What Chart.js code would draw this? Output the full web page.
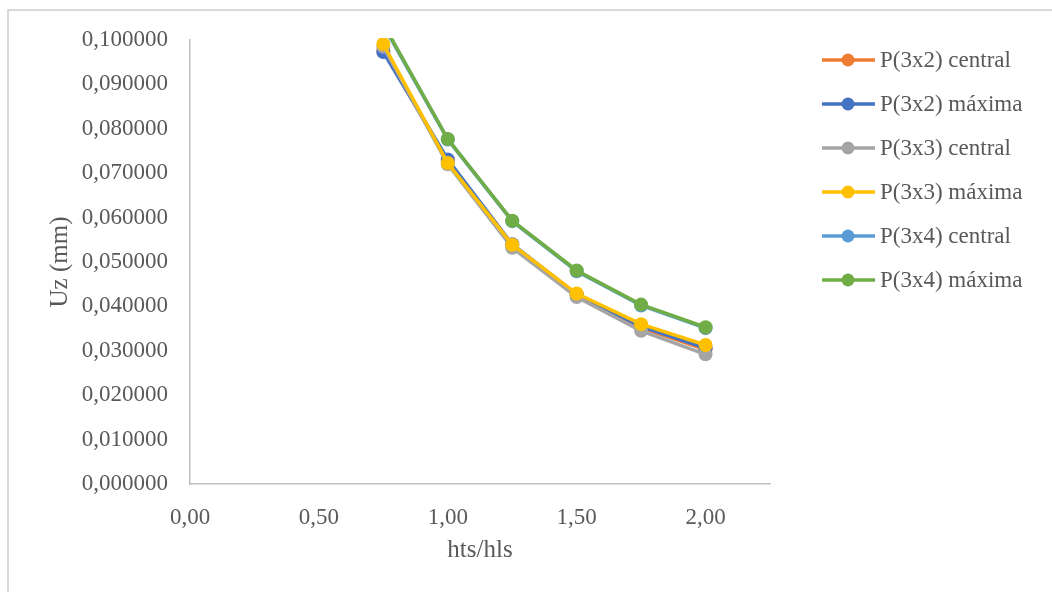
<!DOCTYPE html>
<html>
<head>
<meta charset="utf-8">
<script src="https://cdn.jsdelivr.net/npm/chart.js@4.4.0/dist/chart.umd.min.js"></script>
<style>
  html, body { margin: 0; padding: 0; background: #ffffff; }
  #wrap { width: 1052px; height: 592px; position: relative; }
</style>
</head>
<body>
<div id="wrap"><canvas id="c" width="1052" height="592"></canvas></div>
<script>
// ---- data ----
const xValues = [0.75, 1.00, 1.25, 1.50, 1.75, 2.00];
const seriesNames = [
  'P(3x2) central', 'P(3x2) máxima', 'P(3x3) central',
  'P(3x3) máxima', 'P(3x4) central', 'P(3x4) máxima'
];
const p3x2Central = [0.0975, 0.0728, 0.0538, 0.0425, 0.0352, 0.0303];
const p3x2Maxima  = [0.0973, 0.0731, 0.0540, 0.0427, 0.0355, 0.0306];
const p3x3Central = [0.0985, 0.0720, 0.0532, 0.0421, 0.0345, 0.0292];
const p3x3Maxima  = [0.0991, 0.0723, 0.0539, 0.0429, 0.0360, 0.0313];
const p3x4Central = [0.1033, 0.0776, 0.0592, 0.0479, 0.0402, 0.0351];
const p3x4Maxima  = [0.1036, 0.0777, 0.0593, 0.0481, 0.0404, 0.0353];
const seriesColors = ['#ED7D31', '#4472C4', '#A5A5A5', '#FFC000', '#5B9BD5', '#70AD47'];
const xTickValues = [0, 0.5, 1.0, 1.5, 2.0];
const xTitle = 'hts/hls';
const yTitle = 'Uz (mm)';

const allSeries = [p3x2Central, p3x2Maxima, p3x3Central, p3x3Maxima, p3x4Central, p3x4Maxima];
const FONT = "'Liberation Serif', 'Times New Roman', serif";
const TEXT = '#595959';

const datasets = allSeries.map((vals, i) => ({
  label: seriesNames[i],
  data: vals.map((v, k) => ({ x: xValues[k], y: v })),
  borderColor: seriesColors[i],
  backgroundColor: seriesColors[i],
  pointBackgroundColor: seriesColors[i],
  pointBorderColor: seriesColors[i],
  borderWidth: 3.5,
  pointRadius: 7,
  pointBorderWidth: 0,
  pointHoverRadius: 7,
  tension: 0,
  fill: false,
  order: allSeries.length - 1 - i,
  clip: { left: 10, right: 10, top: 2, bottom: 10 }
}));

const frame = {
  id: 'frame',
  beforeDraw(chart) {
    const ctx = chart.ctx;
    ctx.save();
    ctx.fillStyle = '#ffffff';
    ctx.fillRect(0, 0, chart.width, chart.height);
    ctx.strokeStyle = '#d9d9d9';
    ctx.lineWidth = 2;
    ctx.beginPath();
    ctx.moveTo(8, 600);
    ctx.lineTo(8, 10);
    ctx.lineTo(1060, 10);
    ctx.stroke();
    ctx.restore();
  }
};

const legendPlugin = {
  id: 'sideLegend',
  afterDraw(chart) {
    const ctx = chart.ctx;
    ctx.save();
    chart.data.datasets.forEach((ds, i) => {
      const y = 60 + i * 44;
      ctx.strokeStyle = ds.borderColor;
      ctx.lineWidth = 3.5;
      ctx.beginPath();
      ctx.moveTo(822, y);
      ctx.lineTo(875, y);
      ctx.stroke();
      ctx.fillStyle = ds.borderColor;
      ctx.beginPath();
      ctx.arc(848, y, 6.5, 0, Math.PI * 2);
      ctx.fill();
      ctx.fillStyle = TEXT;
      ctx.font = '23px ' + FONT;
      ctx.textBaseline = 'middle';
      ctx.textAlign = 'left';
      ctx.fillText(ds.label, 880, y + 1);
    });
    ctx.restore();
  }
};

new Chart(document.getElementById('c'), {
  type: 'line',
  data: { datasets },
  plugins: [frame, legendPlugin],
  options: {
    responsive: false,
    animation: false,
    events: [],
    layout: { padding: { left: 10, right: 282, top: 40, bottom: 0 } },
    plugins: {
      legend: { display: false },
      tooltip: { enabled: false },
      title: { display: false }
    },
    scales: {
      x: {
        type: 'linear',
        min: 0,
        max: 2.25,
        grid: { display: false, drawTicks: false },
        border: { display: true, color: '#bfbfbf', width: 1.5 },
        afterBuildTicks(scale) {
          scale.ticks = xTickValues.map(v => ({ value: v }));
        },
        afterFit(scale) { scale.height = 108; },
        ticks: {
          padding: 20,
          color: TEXT,
          font: { family: FONT, size: 23 },
          maxRotation: 0,
          callback: v => Number(v).toFixed(2).replace('.', ',')
        },
        title: {
          display: true,
          text: xTitle,
          color: TEXT,
          font: { family: FONT, size: 25 },
          padding: { top: 0, bottom: 27 }
        }
      },
      y: {
        type: 'linear',
        min: 0,
        max: 0.1,
        grid: { display: false, drawTicks: false },
        border: { display: true, color: '#bfbfbf', width: 1.5 },
        afterFit(scale) { scale.width = 180; },
        ticks: {
          stepSize: 0.01,
          padding: 22,
          color: TEXT,
          font: { family: FONT, size: 23 },
          callback: v => Number(v).toFixed(6).replace('.', ',')
        },
        title: {
          display: true,
          text: yTitle,
          color: TEXT,
          font: { family: FONT, size: 25 },
          padding: { top: 35, bottom: 0 }
        }
      }
    }
  }
});
</script>
</body>
</html>
